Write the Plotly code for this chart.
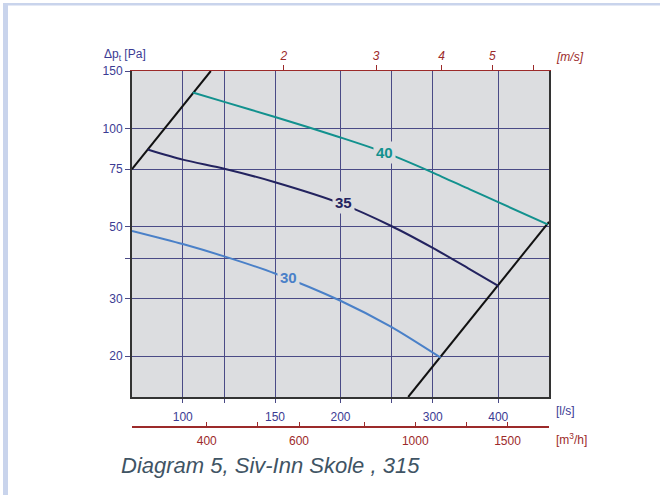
import math
import plotly.graph_objects as go

# ---- data ----
q_40 = [104.5, 120, 150, 200, 243, 300, 353, 400, 497]
dp_40 = [128.8, 120.6, 108.4, 93.8, 84.4, 73.2, 65.0, 59.4, 50.8]

q_35 = [85.7, 100, 120, 150, 200, 250, 300, 350, 400]
dp_35 = [86.2, 80.2, 75.2, 68.4, 58.9, 50.2, 43.0, 37.3, 32.9]

q_30 = [80, 100, 120, 150, 200, 250, 310.6]
dp_30 = [48.5, 44.2, 40.5, 35.9, 29.6, 24.6, 19.8]

q_sys_left = [80, 113.1]
dp_sys_left = [75, 150]
q_sys_right = [269.3, 500]
dp_sys_right = [15, 51.7]

curve_labels = ["40", "35", "30"]
label_q = [243, 202.3, 158.8]
label_dp = [84.3, 59.2, 34.8]

x_ticks = [100, 150, 200, 300, 400]
x_minor = [120, 250]
y_ticks = [20, 30, 50, 75, 100, 150]
y_minor = [40]
ms_ticks = [2, 3, 4, 5]
ms_minor = [6]
m3h_ticks = [400, 600, 1000, 1500]
m3h_minor = [500, 800, 1250]
duct_d = 0.315  # m

# ---- styling ----
W, H = 660, 495
L, R, T, B = 132, 549, 71, 427
PLOT_BOTTOM = 397
BG = "#dcdde0"
BLUE_TXT = "#3b3b93"
RED = "#9c2a2a"
GRID = "#4a4a86"
TEAL = "#12918e"
NAVY = "#23235f"
LBLUE = "#4a80c8"
FONT = "Liberation Sans, Arial, sans-serif"

area = math.pi * duct_d ** 2 / 4
ms_vals = [v * area * 1000 for v in ms_ticks]
ms_minor_vals = [v * area * 1000 for v in ms_minor]
m3h_vals = [v / 3.6 for v in m3h_ticks]
m3h_minor_vals = [v / 3.6 for v in m3h_minor]

xr = [math.log10(80), math.log10(500)]
yr = [math.log10(15), math.log10(150)]

fig = go.Figure()

def add_line(q, dp, color, width=2, shape="spline"):
    fig.add_trace(go.Scatter(x=q, y=dp, mode="lines",
                             line=dict(color=color, width=width, shape=shape, smoothing=0.7),
                             hoverinfo="skip", showlegend=False, cliponaxis=True))

add_line(q_sys_left, dp_sys_left, "#111111", 2, "linear")
add_line(q_sys_right, dp_sys_right, "#111111", 2, "linear")
add_line(q_40, dp_40, TEAL)
add_line(q_35, dp_35, NAVY)
add_line(q_30, dp_30, LBLUE)

# invisible traces so overlay axes exist
fig.add_trace(go.Scatter(x=[ms_vals[0]], y=[100], xaxis="x2", mode="markers",
                         marker=dict(opacity=0), hoverinfo="skip", showlegend=False))
fig.add_trace(go.Scatter(x=[m3h_vals[0]], y=[100], xaxis="x3", mode="markers",
                         marker=dict(opacity=0), hoverinfo="skip", showlegend=False))

for txt, q, dp, col in zip(curve_labels, label_q, label_dp, [TEAL, NAVY, LBLUE]):
    fig.add_annotation(x=math.log10(q), y=math.log10(dp), text="<b>%s</b>" % txt,
                       showarrow=False, font=dict(family=FONT, size=15, color=col),
                       bgcolor=BG, borderpad=2)

ph = B - T
ydom0 = (B - PLOT_BOTTOM) / ph

def px(xp):
    return (xp - L) / (R - L)

def py(yp):
    return (B - yp) / ph

fig.update_layout(
    width=W, height=H,
    margin=dict(l=L, r=W - R, t=T, b=H - B),
    paper_bgcolor="white", plot_bgcolor=BG,
    font=dict(family=FONT, size=12, color=BLUE_TXT),
    xaxis=dict(type="log", range=xr, tickmode="array", tickvals=x_ticks,
               ticktext=[str(v) for v in x_ticks],
               ticks="outside", ticklen=4, tickcolor=GRID, showgrid=True,
               gridcolor=GRID, gridwidth=1, showline=True, linecolor="#333333",
               linewidth=2, anchor="y", zeroline=False,
               minor=dict(tickmode="array", tickvals=x_minor, ticks="outside", ticklen=4,
                          tickcolor=GRID, showgrid=True, gridcolor=GRID, gridwidth=1),
               tickfont=dict(family=FONT, size=12, color=BLUE_TXT), ticklabelstandoff=4),
    xaxis2=dict(type="log", range=xr, overlaying="x", side="top", anchor="y",
                tickmode="array", tickvals=ms_vals, ticktext=[str(v) for v in ms_ticks],
                ticks="outside", ticklen=5,
                tickcolor=RED, showgrid=False, showline=True, linecolor=RED, linewidth=1,
                minor=dict(tickmode="array", tickvals=ms_minor_vals, ticks="outside",
                           ticklen=5, tickcolor=RED, showgrid=False),
                tickfont=dict(family=FONT, size=12, color=RED, style="italic")),
    xaxis3=dict(type="log", range=xr, overlaying="x", side="bottom", anchor="free",
                position=0, tickmode="array", tickvals=m3h_vals,
                ticktext=[str(v) for v in m3h_ticks], ticks="inside",
                ticklen=4, tickcolor=RED, showgrid=False, showline=True, linecolor=RED,
                linewidth=1.5,
                minor=dict(tickmode="array", tickvals=m3h_minor_vals, ticks="inside",
                           ticklen=4, tickcolor=RED, showgrid=False),
                tickfont=dict(family=FONT, size=12, color=RED),
                ticklabelstandoff=3),
    yaxis=dict(type="log", range=yr, domain=[ydom0, 1], tickmode="array", tickvals=y_ticks,
               ticktext=[str(v) for v in y_ticks], ticks="outside", ticklen=5, tickcolor=GRID,
               showgrid=True, gridcolor=GRID, gridwidth=1, showline=True,
               linecolor="#333333", linewidth=2, mirror=True, zeroline=False,
               minor=dict(tickmode="array", tickvals=y_minor, ticks="outside", ticklen=5,
                          tickcolor=GRID, showgrid=True, gridcolor=GRID, gridwidth=1),
               tickfont=dict(family=FONT, size=12, color=BLUE_TXT)),
)

# frame bars
fig.add_shape(type="rect", xref="paper", yref="paper", x0=px(3), x1=px(8), y0=py(H + 2), y1=py(3),
              fillcolor="#c9d4ec", line=dict(width=0), layer="below")
fig.add_shape(type="rect", xref="paper", yref="paper", x0=px(3), x1=px(W + 2), y0=py(5.5), y1=py(3),
              fillcolor="#c9d4ec", line=dict(width=0), layer="below")

# axis titles
fig.add_annotation(xref="paper", yref="paper", x=px(102), y=py(55), xanchor="left", yanchor="middle",
                   text="Δp<sub>t</sub> [Pa]", showarrow=False,
                   font=dict(family=FONT, size=12, color=BLUE_TXT))
fig.add_annotation(xref="paper", yref="paper", x=px(554), y=py(56.5), xanchor="left", yanchor="middle",
                   text="<i>[m/s]</i>", showarrow=False, font=dict(family=FONT, size=12, color=RED))
fig.add_annotation(xref="paper", yref="paper", x=px(554), y=py(411), xanchor="left", yanchor="middle",
                   text="[l/s]", showarrow=False, font=dict(family=FONT, size=12, color=BLUE_TXT))
fig.add_annotation(xref="paper", yref="paper", x=px(554), y=py(439), xanchor="left", yanchor="middle",
                   text="[m<sup>3</sup>/h]", showarrow=False, font=dict(family=FONT, size=12, color=RED))
fig.add_annotation(xref="paper", yref="paper", x=px(119), y=py(465), xanchor="left", yanchor="middle",
                   text="<i>Diagram 5, Siv-Inn Skole , 315</i>", showarrow=False,
                   font=dict(family=FONT, size=22, color="#3f5464"))

fig.write_html("out.html", config={"displayModeBar": False},
               post_script="document.body.style.margin='0px';")
